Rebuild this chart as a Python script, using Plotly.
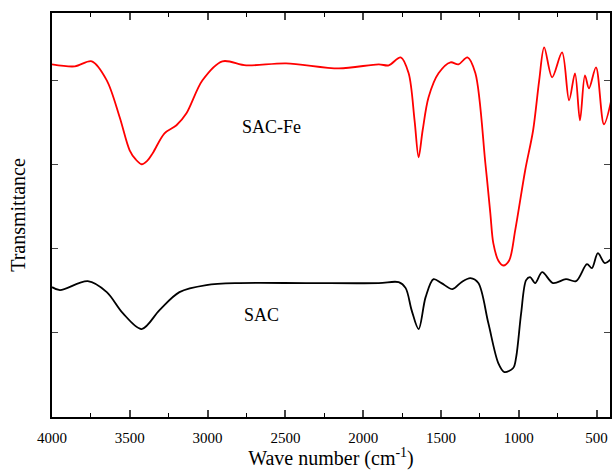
import plotly.graph_objects as go

# SAC-Fe (red) spectrum: wavenumber (cm-1) and transmittance (arb. offset units)
wn_fe = [4000, 3853, 3744, 3648, 3565, 3501, 3462, 3424, 3390, 3353, 3277, 3200, 3136, 3033,
         2905, 2752, 2496, 2156, 1900, 1836, 1759, 1708, 1670, 1644, 1618, 1580, 1516, 1439,
         1388, 1330, 1279, 1215, 1183, 1164, 1132, 1100, 1062, 1023, 959, 908, 869, 837, 786,
         722, 677, 639, 607, 575, 549, 504, 453, 402]
t_fe = [4.190, 4.166, 4.226, 4.000, 3.561, 3.169, 3.060, 3.003, 3.040, 3.134, 3.371, 3.466,
        3.608, 4.000, 4.226, 4.178, 4.202, 4.142, 4.190, 4.178, 4.273, 4.083, 3.525, 3.086,
        3.407, 3.798, 4.083, 4.214, 4.190, 4.273, 4.083, 3.015, 2.420, 2.065, 1.860, 1.800,
        1.860, 2.220, 2.932, 3.407, 4.000, 4.392, 4.036, 4.332, 3.763, 4.083, 3.525, 4.059,
        3.905, 4.154, 3.478, 3.798]

# SAC (black) spectrum
wn_sac = [4000, 3949, 3770, 3648, 3545, 3424, 3309, 3181, 3008, 2796, 2367, 1900, 1772, 1727,
          1689, 1644, 1599, 1548, 1497, 1426, 1369, 1311, 1260, 1196, 1132, 1093, 1036, 1017,
          985, 953, 927, 895, 850, 780, 697, 632, 562, 530, 492, 447, 408]
t_sac = [1.543, 1.507, 1.614, 1.484, 1.234, 1.045, 1.270, 1.484, 1.567, 1.591, 1.591, 1.591,
         1.602, 1.531, 1.270, 1.045, 1.424, 1.638, 1.591, 1.519, 1.602, 1.650, 1.591, 1.116,
         0.641, 0.534, 0.582, 0.712, 1.234, 1.626, 1.662, 1.591, 1.721, 1.591, 1.638, 1.614,
         1.816, 1.769, 1.947, 1.828, 1.875]

x_ticks = [4000, 3500, 3000, 2500, 2000, 1500, 1000, 500]

font_family = "Liberation Serif"

fig = go.Figure()
fig.add_trace(go.Scatter(x=wn_fe, y=t_fe, mode="lines",
                         line=dict(color="#ff0000", width=1.8, shape="spline", smoothing=0.9),
                         showlegend=False))
fig.add_trace(go.Scatter(x=wn_sac, y=t_sac, mode="lines",
                         line=dict(color="#000000", width=1.8, shape="spline", smoothing=0.9),
                         showlegend=False))

fig.add_annotation(x=2592, y=3.45, text="SAC-Fe", showarrow=False,
                   font=dict(family=font_family, size=18, color="black"))
fig.add_annotation(x=2656, y=1.21, text="SAC", showarrow=False,
                   font=dict(family=font_family, size=18, color="black"))

fig.update_layout(
    width=614, height=470,
    margin=dict(l=52, r=2, t=13, b=53),
    plot_bgcolor="white", paper_bgcolor="white",
    font=dict(family=font_family, size=15, color="black"),
    xaxis=dict(range=[4000, 414], tickvals=x_ticks, ticks="inside", ticklen=7,
               tickwidth=1.5, linecolor="black", linewidth=1.5, mirror="ticks",
               showgrid=False, zeroline=False, ticklabelstandoff=6,
               minor=dict(dtick=250, tick0=0, ticks="inside", ticklen=4, tickwidth=1.2,
                          tickcolor="black", showgrid=False),
               tickfont=dict(family=font_family, size=15),
               title=dict(text="Wave number (cm<sup>-1</sup>)", standoff=8,
                          font=dict(family=font_family, size=20))),
    yaxis=dict(range=[0, 4.8], tickvals=[1, 2, 3, 4], showticklabels=False,
               ticks="inside", ticklen=6, tickwidth=1.2, linecolor="black", linewidth=1.5,
               mirror="ticks", showgrid=False, zeroline=False,
               title=dict(text="Transmittance", standoff=19,
                          font=dict(family=font_family, size=20))),
)

fig.write_html("out.html")
